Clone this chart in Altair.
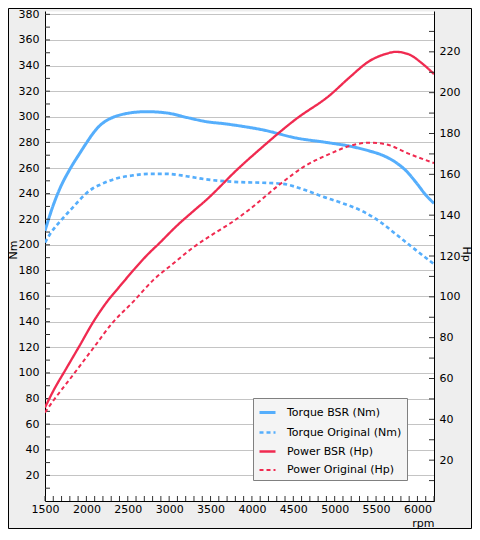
import altair as alt
import pandas as pd

# ---- data ----
series_names = ["Torque BSR (Nm)", "Torque Original (Nm)", "Power BSR (Hp)", "Power Original (Hp)"]

rpm_tq_bsr = [1500, 1600, 1680, 1800, 1920, 2000, 2080, 2160, 2250, 2360, 2480, 2720, 2970, 3210, 3450,
              3690, 3850, 4130, 4530, 4940, 5180, 5420, 5580, 5740, 5860, 5980, 6100, 6200]
tq_bsr = [211, 231, 244, 259, 271.5, 279.5, 287, 293, 297.3, 300.5, 302.5, 304, 303, 299.5, 296.2,
          294.4, 292.9, 289.8, 283.5, 279.6, 277.1, 273.3, 269.9, 264.3, 258, 249, 239, 232.4]

rpm_tq_orig = [1500, 1560, 1720, 1840, 2000, 2080, 2160, 2360, 2560, 2770, 2970, 3210, 3450, 3690, 3850,
               4130, 4370, 4610, 4860, 5100, 5340, 5540, 5740, 5940, 6200]
tq_orig = [201.8, 208.3, 221, 229.5, 240.3, 244.2, 246.8, 251.8, 254.2, 255.4, 255.4, 253.6, 251.1, 249.6, 249,
           248.5, 247.7, 243.5, 237.6, 232.4, 226.1, 218.4, 208.3, 198, 185]

rpm_pw_bsr = [1500, 1600, 1760, 1920, 2080, 2240, 2400, 2570, 2730, 2890, 3090, 3290, 3450, 3650,
              3730, 4130, 4530, 4940, 5180, 5420, 5620, 5740, 5900, 6060, 6200]
pw_bsr = [45.8, 53.9, 65.1, 76.2, 87.5, 97.1, 105, 113.1, 120.3, 126.6, 134.7, 141.9, 147.5, 155.4,
          158.7, 173.5, 187, 198.7, 207.5, 215.5, 219, 220, 218.7, 214.2, 209.1]

rpm_pw_orig = [1500, 1600, 1840, 2080, 2320, 2570, 2810, 3050, 3290, 3530, 3750, 3970, 4350, 4650,
               4940, 5180, 5420, 5620, 5900, 6200]
pw_orig = [43.4, 49.1, 61.8, 74.7, 87.5, 97.8, 108.3, 116.3, 124.2, 130.7, 136.3, 142.8, 155.5, 164.3,
           170, 173.9, 175.5, 174.7, 170, 165.5]

nm_labels = list(range(20, 381, 20))
nm_ticks = list(range(10, 381, 10))
hp_labels = list(range(20, 221, 20))
hp_ticks = list(range(10, 240, 10))
rpm_labels = list(range(1500, 6001, 500))
rpm_ticks = list(range(1500, 6201, 100))

# ---- layout ----
W, H = 389, 490
PL, PT, PR, PB = 37, 3, 38, 28
BLUE = "#55aefc"
RED = "#f02a50"
FONT = "DejaVu Sans"

tq_df = pd.concat([
    pd.DataFrame({"rpm": rpm_tq_bsr, "nm": tq_bsr, "series": series_names[0]}),
    pd.DataFrame({"rpm": rpm_tq_orig, "nm": tq_orig, "series": series_names[1]}),
])
pw_df = pd.concat([
    pd.DataFrame({"rpm": rpm_pw_bsr, "hp": pw_bsr, "series": series_names[2]}),
    pd.DataFrame({"rpm": rpm_pw_orig, "hp": pw_orig, "series": series_names[3]}),
])

xscale = alt.Scale(domain=[1500, 6200], nice=False, zero=False)
nmscale = alt.Scale(domain=[0, 382.6], nice=False, zero=False)
hpscale = alt.Scale(domain=[0, 240], nice=False, zero=False)

legend = alt.Legend(
    title=None, orient="none", legendX=208, legendY=387,
    fillColor="#f4f4f4", strokeColor="#808080", padding=5,
    symbolType="stroke", symbolSize=256, symbolStrokeWidth=2.5,
    labelOffset=10, rowPadding=4, labelFontSize=11, labelColor="black", labelFont=FONT,
)
color = alt.Color("series:N", scale=alt.Scale(domain=series_names, range=[BLUE, BLUE, RED, RED]), legend=legend)
dash = alt.StrokeDash("series:N", scale=alt.Scale(domain=series_names, range=[[1, 0], [4, 3], [1, 0], [4, 3]]), legend=legend)
swidth = alt.StrokeWidth("series:N", scale=alt.Scale(domain=series_names, range=[3, 2, 3, 2]), legend=None)

x_axis = alt.Axis(
    values=rpm_labels, format="d", labelOverlap=False, labelFlush=False, ticks=False, grid=False,
    labelPadding=2, domainColor="black",
    title="rpm", titleAnchor="end", titleAlign="right", titleX=W, titleY=22, titleBaseline="middle",
)
nm_axis = alt.Axis(
    orient="left", values=nm_labels, format="d", labelOverlap=False, labelFlush=False, ticks=False,
    grid=True, gridColor="#c4c4c4", domainColor="black", labelPadding=6, title="Nm", titleAngle=-90,
    titleX=-32, titleY=H * 0.487, titleAlign="center", titleBaseline="middle")
hp_axis = alt.Axis(
    orient="right", values=hp_labels, format="d", labelOverlap=False, labelFlush=False, ticks=False,
    grid=False, domainColor="black", labelPadding=5, title="Hp", titleAngle=90, titleX=31.5,
    titleY=H * 0.495, titleAlign="center", titleBaseline="middle")

tq_lines = alt.Chart(tq_df).mark_line(interpolate="monotone", clip=True).encode(
    x=alt.X("rpm:Q", scale=xscale, axis=x_axis),
    y=alt.Y("nm:Q", scale=nmscale, axis=nm_axis),
    color=color, strokeDash=dash, strokeWidth=swidth, detail="series:N",
)

nm_tick_rules = alt.Chart(pd.DataFrame({"nm": nm_ticks})).mark_rule(color="#333333").encode(
    y=alt.Y("nm:Q", scale=nmscale, axis=nm_axis), x=alt.value(0), x2=alt.value(5))
rpm_tick_rules = alt.Chart(pd.DataFrame({"rpm": rpm_ticks})).mark_rule(color="#333333").encode(
    x=alt.X("rpm:Q", scale=xscale, axis=x_axis), y=alt.value(H), y2=alt.value(H - 5))
frame = alt.Chart(pd.DataFrame({"a": [0]})).mark_rect(filled=False, stroke="black", strokeWidth=1).encode(
    x=alt.value(-PL + 0.5), x2=alt.value(W + PR - 0.5), y=alt.value(-PT + 0.5), y2=alt.value(H + PB - 0.5))

left = alt.layer(tq_lines, nm_tick_rules, rpm_tick_rules, frame)

pw_lines = alt.Chart(pw_df).mark_line(interpolate="monotone", clip=True).encode(
    x=alt.X("rpm:Q", scale=xscale, axis=x_axis),
    y=alt.Y("hp:Q", scale=hpscale, axis=hp_axis),
    color=color, strokeDash=dash, strokeWidth=swidth, detail="series:N",
)
hp_tick_rules = alt.Chart(pd.DataFrame({"hp": hp_ticks})).mark_rule(color="#333333").encode(
    y=alt.Y("hp:Q", scale=hpscale, axis=hp_axis), x=alt.value(W - 5), x2=alt.value(W))

right = alt.layer(pw_lines, hp_tick_rules)

chart = alt.layer(left, right).resolve_scale(y="independent").properties(
    width=W, height=H,
    autosize=alt.AutoSizeParams(type="none"),
    padding={"left": PL, "top": PT, "right": PR, "bottom": PB},
    background="#eeeeee",
).configure(font=FONT).configure_view(fill="white", stroke="transparent").configure_axis(
    labelFont=FONT, labelFontSize=11, labelColor="black", titleFont=FONT, titleFontSize=11,
    titleFontWeight="normal", titleColor="black", domainWidth=1,
)

chart.save("out.html", embed_options={"renderer": "svg", "actions": False})
